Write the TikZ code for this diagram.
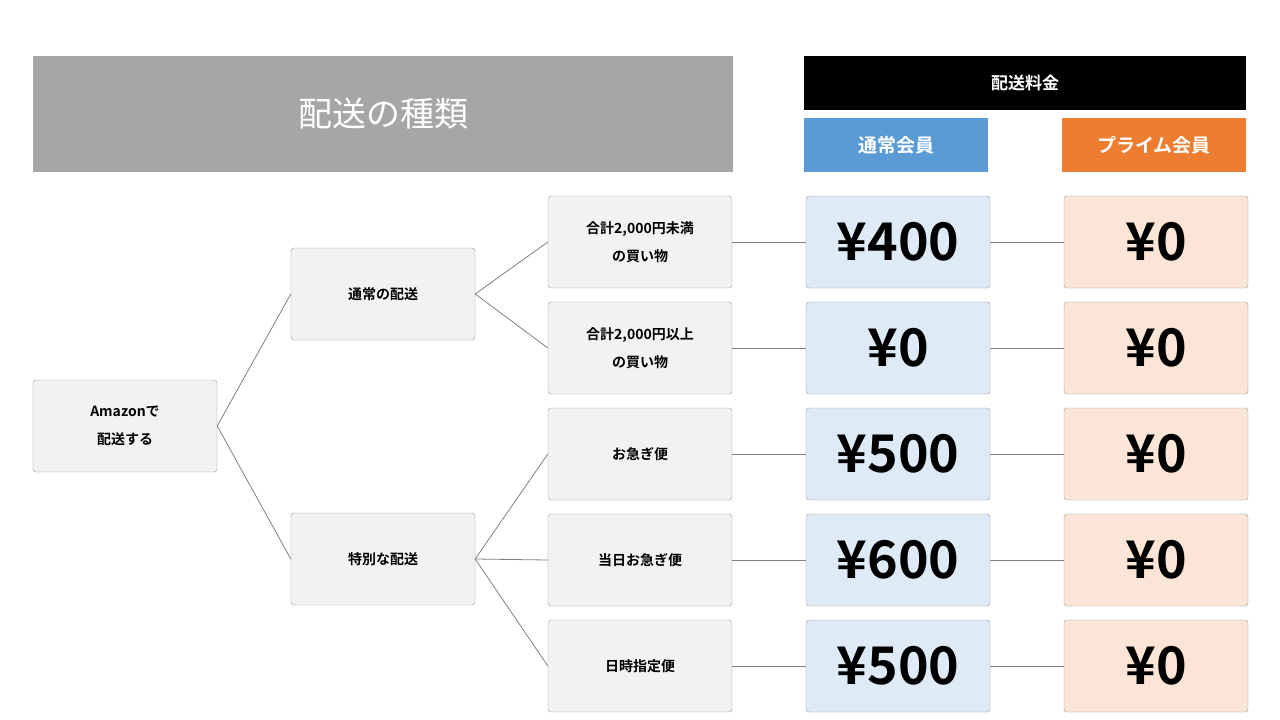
\documentclass[tikz,border=0pt]{standalone}
\usepackage{fontspec}
\setmainfont{Noto Sans CJK JP}
\newfontfamily\jpb{Noto Sans CJK JP Bold}
\begin{document}
\begin{tikzpicture}[x=1pt,y=-1pt,
  box/.style={draw=gray!80,fill=black!5,rounded corners=3pt,minimum width=184pt,minimum height=92pt,inner sep=0pt,align=center,font=\jpb\fontsize{14}{28}\selectfont},
  pbox/.style={box,font=\jpb\fontsize{52}{52}\selectfont},
  conn/.style={draw=gray,line width=0.8pt}]
\useasboundingbox (0,0) rectangle (1280,720);
\fill[white] (0,0) rectangle (1280,720);
\node[fill={rgb,255:red,166;green,166;blue,166},minimum width=700pt,minimum height=116pt,text=white,font=\fontsize{34}{34}\selectfont] (hdr) at (383,114) {配送の種類};
\node[fill=black,minimum width=442pt,minimum height=54pt,text=white,font=\jpb\fontsize{17}{17}\selectfont] (fee) at (1025,83) {配送料金};
\node[fill={rgb,255:red,91;green,155;blue,213},minimum width=184pt,minimum height=54pt,text=white,font=\jpb\fontsize{19}{19}\selectfont] (reg) at (896,145) {通常会員};
\node[fill={rgb,255:red,237;green,125;blue,49},minimum width=184pt,minimum height=54pt,text=white,font=\jpb\fontsize{19}{19}\selectfont] (pri) at (1154,145) {プライム会員};
\node[box] (am) at (125,426) {Amazonで\\配送する};
\node[box] (n1) at (383,294) {通常の配送};
\node[box] (n2) at (383,559) {特別な配送};
\foreach \i/\y/\t in {1/242/{合計2,000円未満\\の買い物},2/348/{合計2,000円以上\\の買い物},3/454/{お急ぎ便},4/560/{当日お急ぎ便},5/666/{日時指定便}}{
  \node[box] (c\i) at (640,\y) {\t};
}
\foreach \i/\y/\p in {1/242/400,2/348/0,3/454/500,4/560/600,5/666/500}{
  \node[pbox,fill={rgb,255:red,222;green,235;blue,247}] (r\i) at (898,\y) {¥\p};
  \node[pbox,fill={rgb,255:red,251;green,229;blue,214}] (p\i) at (1156,\y) {¥0};
  \draw[conn] (c\i.east) -- (r\i.west);
  \draw[conn] (r\i.east) -- (p\i.west);
}
\draw[conn] (am.east) -- (n1.west);
\draw[conn] (am.east) -- (n2.west);
\draw[conn] (n1.east) -- (c1.west);
\draw[conn] (n1.east) -- (c2.west);
\draw[conn] (n2.east) -- (c3.west);
\draw[conn] (n2.east) -- (c4.west);
\draw[conn] (n2.east) -- (c5.west);
\end{tikzpicture}
\end{document}
